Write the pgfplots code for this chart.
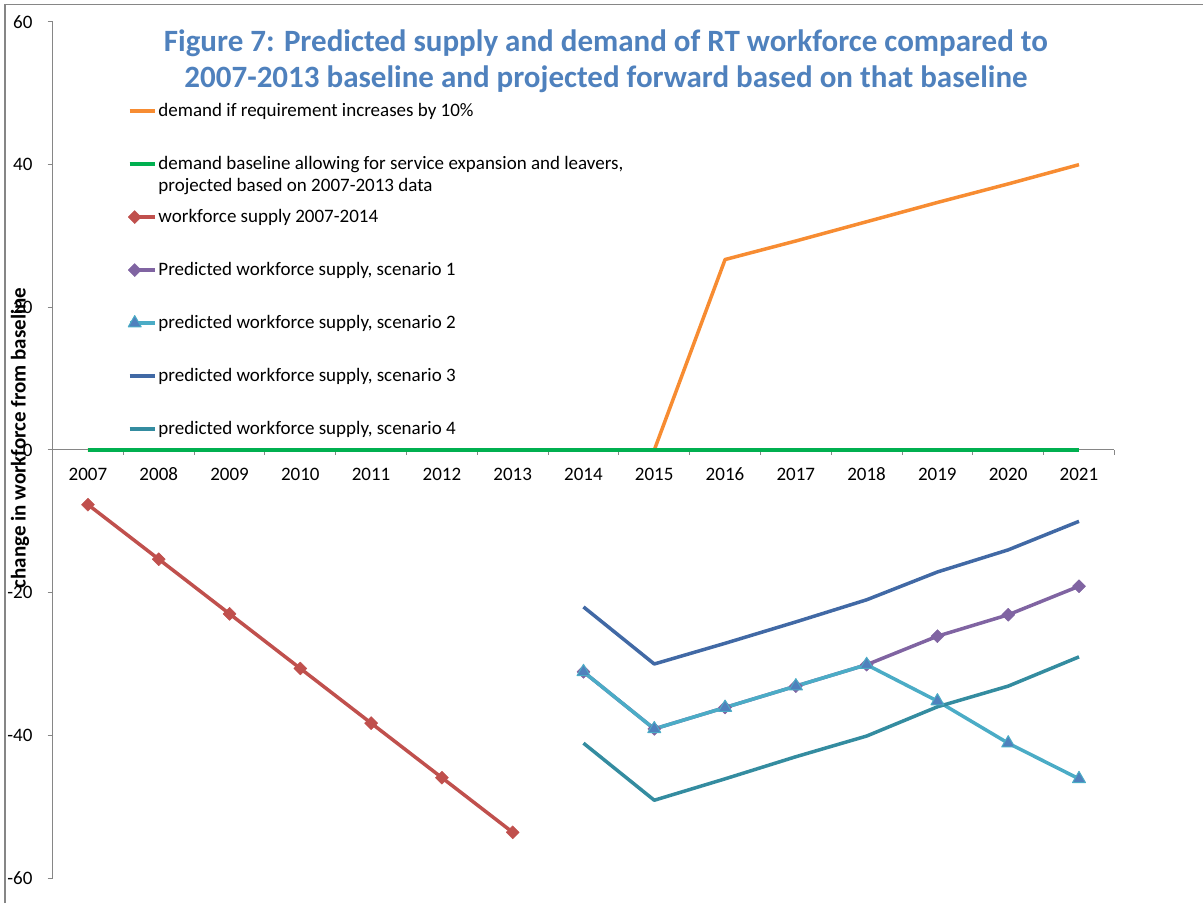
\documentclass[border=0pt]{standalone}
\usepackage{fontspec}
\setmainfont{Carlito}
\usepackage{pgfplots}
\pgfplotsset{compat=1.18}
\definecolor{cOrange}{RGB}{247,140,50}
\definecolor{cGreen}{RGB}{0,176,80}
\definecolor{cRed}{RGB}{192,80,77}
\definecolor{cPurple}{RGB}{128,100,162}
\definecolor{cCyan}{RGB}{75,172,198}
\definecolor{cTri}{RGB}{79,129,189}
\definecolor{cDark}{RGB}{65,105,165}
\definecolor{cTeal}{RGB}{52,140,160}
\definecolor{cTitle}{RGB}{79,129,189}
\definecolor{cAxis}{RGB}{134,134,134}
\begin{document}
\begin{tikzpicture}[x=1pt,y=1pt]
\useasboundingbox (0,0) rectangle (1203,903);
\draw[cAxis, line width=1.5pt] (5,0) -- (5,898.5) -- (1203,898.5);
\node[font=\fontsize{31}{36}\selectfont\bfseries, text=cTitle, align=center] at (606,842)
  {Figure 7: Predicted supply and demand of RT workforce compared to\\2007-2013 baseline and projected forward based on that baseline};
\node[font=\fontsize{21}{25}\selectfont\bfseries, rotate=90] at (20,465) {change in workforce from baseline};
\begin{axis}[
  at={(52.6pt,25pt)}, anchor=south west,
  scale only axis, width=1061.8pt, height=856pt,
  xmin=2006.5, xmax=2021.5, ymin=-60, ymax=60,
  axis x line*=middle, axis y line*=left,
  axis line style={cAxis, line width=1pt},
  every tick/.style={cAxis, line width=1pt},
  xtick={2007,...,2021},
  xticklabels={2007,2008,2009,2010,2011,2012,2013,2014,2015,2016,2017,2018,2019,2020,2021},
  major x tick style={draw=none},
  minor xtick={2006.5,2007.5,2008.5,2009.5,2010.5,2011.5,2012.5,2013.5,2014.5,2015.5,2016.5,2017.5,2018.5,2019.5,2020.5,2021.5},
  minor tick length=5pt,
  major tick length=5pt,
  tick align=outside,
  ytick={-60,-40,-20,0,20,40,60},
  yticklabels={-60,-40,-20,0,20,40,60},
  ticklabel style={font=\fontsize{19}{22}\selectfont, text=black},
  xticklabel style={anchor=north, text height=13pt, text depth=0pt, inner sep=0pt, yshift=-12pt},
  yticklabel style={anchor=east, inner sep=0pt, xshift=-15pt},
  clip=false,
  legend image code/.code={
    \draw[#1,mark=none] (0pt,5.5pt) -- (25pt,5.5pt);
    \draw[#1] plot coordinates {(5pt,5.5pt)};
  },
  legend style={draw=none, fill=none, inner sep=0pt, outer sep=0pt,
    at={(0.0710,0.907)}, anchor=north west, row sep=0pt, column sep=2pt,
    font=\fontsize{19}{23}\selectfont,
    nodes={inner sep=0pt, text height=15pt, text depth=38pt, anchor=base west}},
  legend cell align=left,
  every axis plot/.append style={line width=3.5pt, line join=round},
]
\addplot[cOrange, mark=none] coordinates {
 (2007,0)(2008,0)(2009,0)(2010,0)(2011,0)(2012,0)(2013,0)(2014,0)(2015,0)
 (2016,26.7)(2017,29.3)(2018,32.0)(2019,34.7)(2020,37.3)(2021,40.0)};
\addlegendentry{demand if requirement increases by 10\%}
\addplot[cGreen, mark=none] coordinates {
 (2007,0)(2008,0)(2009,0)(2010,0)(2011,0)(2012,0)(2013,0)(2014,0)(2015,0)
 (2016,0)(2017,0)(2018,0)(2019,0)(2020,0)(2021,0)};
\addlegendentry{\parbox[t]{520pt}{\raggedright demand baseline allowing for service expansion and leavers,\\[-1pt]projected based on 2007-2013 data}}
\addplot[cRed, mark=square*, mark size=4.6pt, mark options={rotate=45, solid, line width=0.5pt, fill=cRed}] coordinates {
 (2007,-7.66)(2008,-15.31)(2009,-22.97)(2010,-30.63)(2011,-38.29)(2012,-45.94)(2013,-53.6)};
\addlegendentry{workforce supply 2007-2014}
\addplot[cPurple, mark=square*, mark size=4.6pt, mark options={rotate=45, solid, line width=0.5pt, fill=cPurple}] coordinates {
 (2014,-31.1)(2015,-39.1)(2016,-36.1)(2017,-33.1)(2018,-30.1)(2019,-26.1)(2020,-23.1)(2021,-19.1)};
\addlegendentry{Predicted workforce supply, scenario 1}
\addplot[cCyan, mark=triangle*, mark size=7.5pt, mark options={solid, line width=1pt, draw=cCyan, fill=cTri}] coordinates {
 (2014,-31.1)(2015,-39.1)(2016,-36.1)(2017,-33.1)(2018,-30.1)(2019,-35.2)(2020,-41.1)(2021,-46.1)};
\addlegendentry{predicted workforce supply, scenario 2}
\addplot[cDark, mark=none] coordinates {
 (2014,-22.0)(2015,-30.0)(2016,-27.1)(2017,-24.1)(2018,-21.0)(2019,-17.1)(2020,-14.0)(2021,-10.0)};
\addlegendentry{predicted workforce supply, scenario 3}
\addplot[cTeal, mark=none] coordinates {
 (2014,-41.1)(2015,-49.1)(2016,-46.1)(2017,-43.0)(2018,-40.1)(2019,-36.0)(2020,-33.1)(2021,-29.0)};
\addlegendentry{predicted workforce supply, scenario 4}
\end{axis}
\end{tikzpicture}
\end{document}
